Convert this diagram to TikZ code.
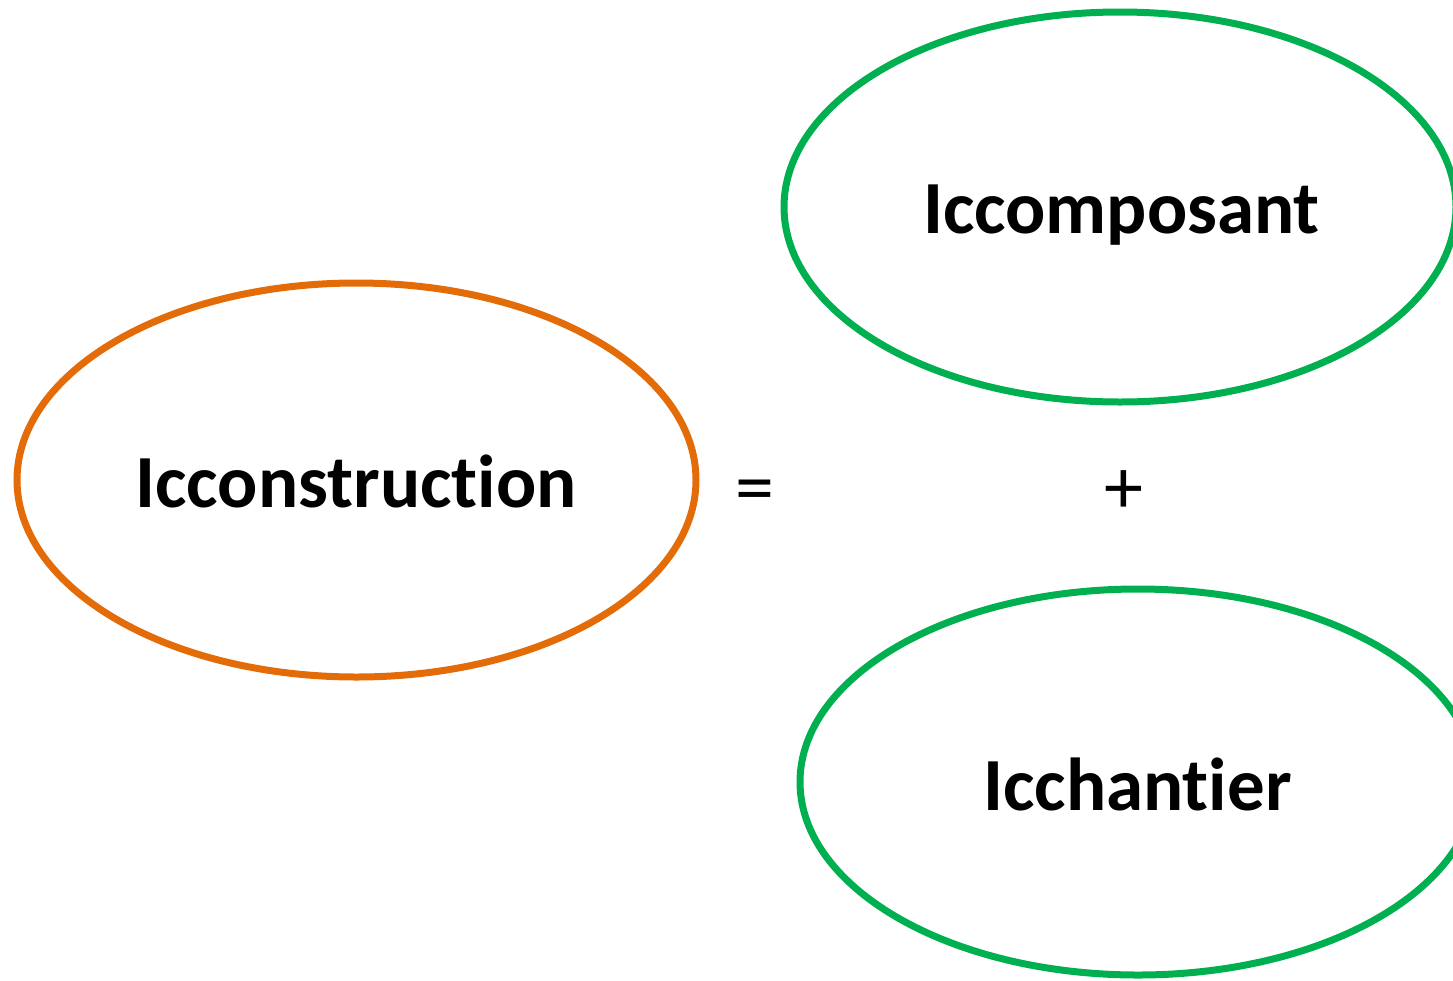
\documentclass[tikz,border=0pt]{standalone}
\usepackage{fontspec}
\setmainfont{Carlito}[Ligatures=NoCommon,RawFeature={-liga;-dlig}]
\usetikzlibrary{shapes.geometric}
\definecolor{orangeline}{HTML}{E36C09}
\definecolor{greenline}{HTML}{00B050}
\tikzset{
  oval/.style={ellipse, draw, line width=7pt, inner sep=0pt},
  bigtext/.style={font=\fontsize{75}{80}\selectfont\bfseries, anchor=base, inner sep=0pt},
  optext/.style={font=\fontsize{78}{80}\selectfont, inner sep=0pt}
}
\begin{document}
\begin{tikzpicture}[x=1pt,y=-1pt]
\useasboundingbox (0,0) rectangle (1453,980);
\clip (0,0) rectangle (1453,980);
\node[oval, draw=orangeline, minimum width=679pt, minimum height=394pt] (cons) at (356.5,480) {};
\node[oval, draw=greenline, minimum width=672pt, minimum height=390pt] (comp) at (1120,207) {};
\node[oval, draw=greenline, minimum width=676pt, minimum height=386pt] (chan) at (1138,782) {};
\node[bigtext] (tcons) at (356,507) {Icconstruction};
\node[bigtext] (tcomp) at (1121.5,233) {Iccomposant};
\node[bigtext] (tchan) at (1137.5,810) {Icchantier};
\node[optext] (eq) at (755,497) {=};
\node[optext] (plus) at (1124,492) {+};
\end{tikzpicture}
\end{document}
